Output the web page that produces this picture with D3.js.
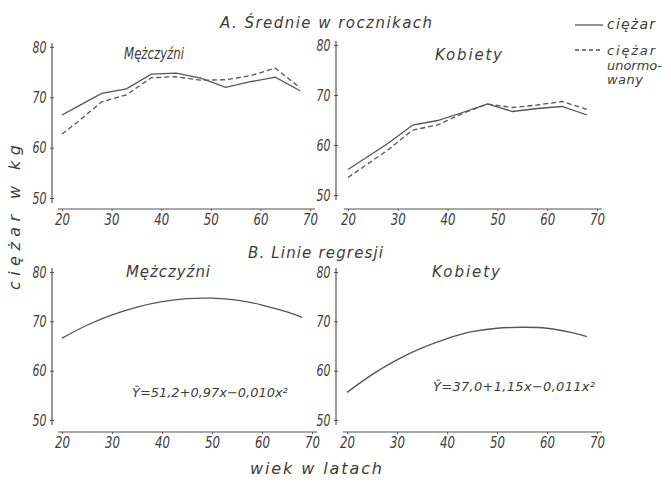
<!DOCTYPE html>
<html>
<head>
<meta charset="utf-8">
<script src="https://cdn.jsdelivr.net/npm/d3@7"></script>
<style>
  body { margin: 0; background: #fff; }
  text { font-family: "DejaVu Sans", Roboto, sans-serif; font-style: italic; fill: #3c3c3c; }
</style>
</head>
<body>
<div id="chart"></div>
<script>
// A. means by age group
const menAges = [20, 23, 28, 33, 38, 43, 48, 53, 58, 63, 68]
const menWeight = [66.5, 68.1, 70.8, 71.7, 74.6, 74.8, 73.8, 72.0, 73.1, 74.0, 71.3]
const menNormed = [62.7, 65.0, 69.1, 70.5, 73.9, 74.1, 73.4, 73.5, 74.3, 75.8, 71.9]
const womenAges = [20, 28, 33, 38, 43, 48, 53, 58, 63, 68]
const womenWeight = [55.1, 60.3, 64.0, 64.9, 66.5, 68.2, 66.7, 67.3, 67.7, 66.0]
const womenNormed = [53.5, 59.0, 63.0, 64.0, 66.3, 68.2, 67.5, 68.0, 68.7, 67.1]

// B. regression lines
const regAges = [20, 25, 30, 35, 40, 45, 50, 55, 60, 65, 68]
const menRegression = [66.6, 69.2, 71.3, 72.9, 74.0, 74.6, 74.7, 74.3, 73.3, 71.9, 70.8]
const womenRegression = [55.6, 59.2, 62.2, 64.6, 66.5, 67.9, 68.6, 68.8, 68.6, 67.7, 66.9]

const xTicks = [20, 30, 40, 50, 60, 70]
const yTicks = [50, 60, 70, 80]

const width = 671
const height = 482
const ink = '#555'

const svg = d3
  .select('#chart')
  .append('svg')
  .attr('width', width)
  .attr('height', height)

svg.append('rect').attr('width', width).attr('height', height).attr('fill', '#fff')

function zip(xs, ys) {
  return xs.map((x, i) => ({ age: x, kg: ys[i] }))
}

// text placed at (x,y) and made w wide: spread letters if short, narrow glyphs if long
function label(parent, text, x, y, w, size) {
  const t = parent.append('text')
    .style('font-size', size + 'px')
    .text(text)
  const natural = t.node().getComputedTextLength()
  if (natural > w) {
    t.attr('transform', 'translate(' + x + ',' + y + ') scale(' + (w / natural) + ',1)')
  } else {
    t.attr('transform', 'translate(' + x + ',' + y + ')')
      .attr('textLength', w)
      .attr('lengthAdjust', 'spacing')
  }
  return t
}

// tick labels: larger font, narrowed horizontally
function styleTicks(sel, w) {
  sel.attr('font-size', null).attr('font-family', null)
  sel.selectAll('.tick text')
    .style('font-size', '16px')
    .attr('fill', '#3c3c3c')
    .each(function () {
      const natural = this.getComputedTextLength()
      d3.select(this).attr('transform', 'scale(' + Math.min(1, w / natural) + ',1)')
    })
}

// one small panel: layout box + list of series
function panel(box, series, title, equation) {
  const x = d3.scaleLinear().domain([20, 70]).range([box.x0, box.x1])
  const y = d3.scaleLinear().domain([50, 80]).range([box.y0, box.y1])
  const g = svg.append('g')

  // y axis
  const yAxis = d3.axisLeft(y).tickValues(yTicks).tickSize(3).tickSizeOuter(0).tickPadding(5)
  const ya = g.append('g')
    .attr('transform', 'translate(' + box.ay + ',0)')
    .call(yAxis)
  ya.select('.domain').remove()
  ya.selectAll('.tick line').attr('stroke', ink).attr('x2', 2).attr('x1', -2)
  styleTicks(ya, 14)
  ya.append('line')
    .attr('y1', y(80) - 4).attr('y2', y(50) + 5)
    .attr('stroke', ink).attr('stroke-width', 1.2)

  // x axis
  const xAxis = d3.axisBottom(x).tickValues(xTicks).tickSize(2).tickSizeOuter(0).tickPadding(3)
  const xa = g.append('g')
    .attr('transform', 'translate(0,' + box.ax + ')')
    .call(xAxis)
  xa.select('.domain').remove()
  xa.selectAll('.tick line').attr('stroke', ink)
  styleTicks(xa, 15)
  xa.append('line')
    .attr('x1', x(20) - 4).attr('x2', x(70) + 5)
    .attr('stroke', ink).attr('stroke-width', 1.2)

  series.forEach(s => {
    const line = d3.line()
      .x(d => x(d.age))
      .y(d => y(d.kg))
      .curve(s.smooth ? d3.curveNatural : d3.curveLinear)
    g.append('path')
      .datum(zip(s.ages, s.values))
      .attr('d', line)
      .attr('fill', 'none')
      .attr('stroke', ink)
      .attr('stroke-width', 1.3)
      .attr('stroke-dasharray', s.dashed ? '5,3' : null)
  })

  label(g, title.text, title.x, title.y, title.w, 15)

  if (equation) {
    label(g, equation.text, equation.x, equation.y, equation.w, 13)
  }
}

panel({ x0: 62, x1: 310, y0: 198, y1: 47, ay: 52, ax: 209 },
  [{ ages: menAges, values: menWeight }, { ages: menAges, values: menNormed, dashed: true }],
  { text: 'Mężczyźni', x: 124, y: 59, w: 60 })

panel({ x0: 348, x1: 597, y0: 195, y1: 45, ay: 336, ax: 209 },
  [{ ages: womenAges, values: womenWeight }, { ages: womenAges, values: womenNormed, dashed: true }],
  { text: 'Kobiety', x: 435, y: 60, w: 67 })

panel({ x0: 62, x1: 312, y0: 420, y1: 272, ay: 52, ax: 432 },
  [{ ages: regAges, values: menRegression, smooth: true }],
  { text: 'Mężczyźni', x: 126, y: 277, w: 84 },
  { text: 'Ŷ=51,2+0,97x−0,010x²', x: 132, y: 397, w: 156 })

panel({ x0: 347, x1: 597, y0: 420, y1: 272, ay: 336, ax: 432 },
  [{ ages: regAges, values: womenRegression, smooth: true }],
  { text: 'Kobiety', x: 432, y: 277, w: 68 },
  { text: 'Ŷ=37,0+1,15x−0,011x²', x: 433, y: 391, w: 162 })

// headings and axis titles
label(svg, 'A. Średnie w rocznikach', 220, 28, 212, 15)
label(svg, 'B. Linie regresji', 248, 258, 135, 15)
label(svg, 'wiek w latach', 250, 474, 132, 16)

svg.append('text')
  .attr('transform', 'translate(20,290) rotate(-90)')
  .attr('textLength', 145)
  .attr('lengthAdjust', 'spacing')
  .style('font-size', '16px')
  .text('ciężar w kg')

// legend
svg.append('line').attr('x1', 575).attr('x2', 603).attr('y1', 25).attr('y2', 25)
  .attr('stroke', ink).attr('stroke-width', 1.3)
svg.append('line').attr('x1', 575).attr('x2', 603).attr('y1', 50).attr('y2', 50)
  .attr('stroke', ink).attr('stroke-width', 1.3).attr('stroke-dasharray', '4,3')
label(svg, 'ciężar', 607, 29, 48, 14)
label(svg, 'ciężar', 607, 55, 48, 13)
label(svg, 'unormo-', 607, 70, 55, 13)
label(svg, 'wany', 607, 84, 36, 13)
</script>
</body>
</html>
